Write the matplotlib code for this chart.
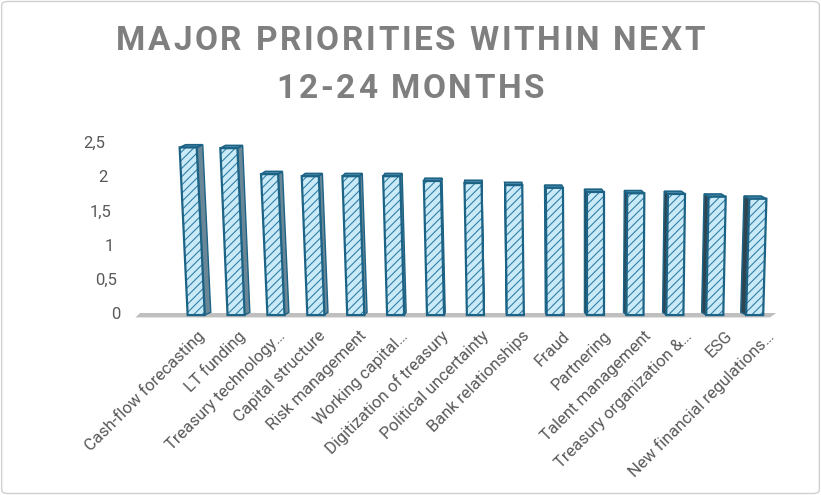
import matplotlib.pyplot as plt
from matplotlib.patches import Polygon, FancyBboxPatch
from matplotlib.transforms import ScaledTranslation
from matplotlib.font_manager import FontProperties

plt.rcParams['font.family'] = ['Roboto', 'DejaVu Sans']
plt.rcParams['hatch.linewidth'] = 0.8

categories = ['Cash-flow forecasting', 'LT funding', 'Treasury technology…', 'Capital structure',
              'Risk management', 'Working capital…', 'Digitization of treasury',
              'Political uncertainty', 'Bank relationships', 'Fraud', 'Partnering',
              'Talent management', 'Treasury organization &…', 'ESG',
              'New financial regulations…']
scores = [2.42, 2.41, 2.03, 2.00, 2.00, 2.00, 1.93, 1.90, 1.87, 1.83, 1.77, 1.75, 1.74, 1.70, 1.67]
yticks = [0, 0.5, 1, 1.5, 2, 2.5]
ytick_labels = ['0', '0,5', '1', '1,5', '2', '2,5']
title_lines = ['MAJOR PRIORITIES WITHIN NEXT', '12-24 MONTHS']

W, H = 821, 495
fig = plt.figure(figsize=(W / 100, H / 100), dpi=100)
ax = fig.add_axes([130 / W, 1 - 313 / H, 660 / W, 171 / H])
ax.set_xlim(-1.43, 14.79)
ax.set_ylim(0, 2.5)

front_col = '#cbeaf8'
hatch_col = '#2f80a8'
edge_col = '#1d6385'
side_right_col = '#6a8797'   # lit side, bars left of centre
side_left_col = '#2f4652'    # shaded side, bars right of centre
top_col = '#4f8fae'

# floor of the 3d chart
floor = Polygon([(-1.18, 0), (14.45, 0), (14.3, -0.065), (-1.3, -0.065)],
                closed=True, facecolor='#bfbfbf', edgecolor='none', clip_on=False, zorder=1)
ax.add_patch(floor)

hw = 0.21
for i, v in enumerate(scores):
    lean = (10 - i) * 0.0197      # bottoms drift toward vanishing point
    sw = (7.4 - i) * 0.02         # side depth, + = right side visible
    dt = 0.04                     # top depth
    b = -0.03
    if sw > 0:
        side = [(i + hw, v), (i + hw + sw, v + dt), (i + hw + sw + lean, b + dt), (i + hw + lean, b)]
        scol = side_right_col
    else:
        side = [(i - hw, v), (i - hw + sw, v + dt), (i - hw + sw + lean, b + dt), (i - hw + lean, b)]
        scol = side_left_col
    ax.add_patch(Polygon(side, closed=True, facecolor=scol, edgecolor=edge_col,
                         lw=1.0, clip_on=False, zorder=2))
    top = [(i - hw, v), (i + hw, v), (i + hw + sw, v + dt), (i - hw + sw, v + dt)]
    ax.add_patch(Polygon(top, closed=True, facecolor=top_col, edgecolor=edge_col,
                         lw=1.2, clip_on=False, zorder=2))
    front = [(i - hw, v), (i + hw, v), (i + hw + lean, b), (i - hw + lean, b)]
    ax.add_patch(Polygon(front, closed=True, facecolor=front_col, edgecolor=hatch_col,
                         hatch='////', lw=0, clip_on=False, zorder=3))
    ax.add_patch(Polygon(front, closed=True, facecolor='none', edgecolor=edge_col,
                         lw=1.6, clip_on=False, zorder=4))

for s in ax.spines.values():
    s.set_visible(False)

ax.set_yticks(yticks)
ax.set_yticklabels(ytick_labels)
ax.tick_params(axis='y', length=0, pad=18, labelsize=12, labelcolor='#595959')
# labels drift right toward the floor (perspective)
for t, lbl in zip(yticks, ax.get_yticklabels()):
    dx = (2.5 - t) * 6 / 100
    lbl.set_transform(lbl.get_transform() + ScaledTranslation(dx, 0, fig.dpi_scale_trans))

ax.set_xticks(range(len(categories)))
ax.set_xticklabels(categories, rotation=45, ha='right', va='top', rotation_mode='anchor')
ax.tick_params(axis='x', length=0, pad=11, labelsize=12, labelcolor='#595959')
for lbl in ax.get_xticklabels():
    lbl.set_transform(lbl.get_transform() + ScaledTranslation(0.08, 0, fig.dpi_scale_trans))

# title with letter spacing
renderer = fig.canvas.get_renderer()
tfp = FontProperties(family='Roboto', weight='bold', size=24)
spacing = 2.7


def text_w(s):
    return renderer.get_text_width_height_descent(s, tfp, ismath=False)[0]


for line, base_y in zip(title_lines, [50, 98]):
    hwid = text_w('H')
    starts = [text_w(line[:k] + 'H') - hwid if k else 0 for k in range(len(line))]
    total = text_w(line) + spacing * (len(line) - 1)
    x0 = W / 2 - total / 2
    for k, ch in enumerate(line):
        if ch == ' ':
            continue
        fig.text((x0 + starts[k] + spacing * k) / W, 1 - base_y / H, ch, ha='left',
                 va='baseline', fontproperties=tfp, color='#7f7f7f')

fig.patches.append(FancyBboxPatch((0.002, 0.003), 0.996, 0.994,
                                  boxstyle='round,pad=0,rounding_size=0.008',
                                  transform=fig.transFigure, facecolor='none',
                                  edgecolor='#d0d0d0', lw=1.0))

fig.savefig('out.png', dpi=100, facecolor='white')
